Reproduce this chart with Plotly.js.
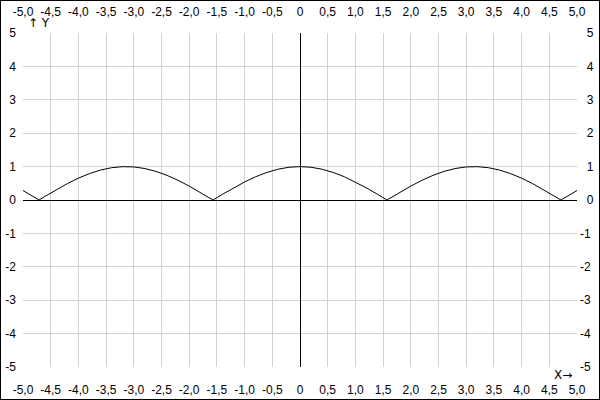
<!DOCTYPE html>
<html>
<head>
<meta charset="utf-8">
<script src="https://cdn.plot.ly/plotly-3.0.1.min.js"></script>
<style>
html,body{margin:0;padding:0;background:#fff;}
#chart{width:600px;height:400px;box-sizing:border-box;border:1px solid #000;}
</style>
</head>
<body>
<div id="chart"></div>
<script>
// Curve samples (|cos x| shape)
const xValues = [-5.0,-4.8,-4.71,-4.6,-4.4,-4.2,-4.0,-3.8,-3.6,-3.4,-3.2,-3.14,-3.0,-2.8,-2.6,-2.4,-2.2,-2.0,-1.8,-1.6,-1.57,-1.4,-1.2,-1.0,-0.8,-0.6,-0.4,-0.2,0.0,0.2,0.4,0.6,0.8,1.0,1.2,1.4,1.57,1.6,1.8,2.0,2.2,2.4,2.6,2.8,3.0,3.14,3.2,3.4,3.6,3.8,4.0,4.2,4.4,4.6,4.71,4.8,5.0];
const yValues = [0.284,0.087,0.0,0.112,0.307,0.490,0.654,0.791,0.897,0.967,0.998,1.0,0.990,0.942,0.857,0.737,0.589,0.416,0.227,0.029,0.0,0.170,0.362,0.540,0.697,0.825,0.921,0.980,1.0,0.980,0.921,0.825,0.697,0.540,0.362,0.170,0.0,0.029,0.227,0.416,0.589,0.737,0.857,0.942,0.990,1.0,0.998,0.967,0.897,0.791,0.654,0.490,0.307,0.112,0.0,0.087,0.284];

const xTicks = [-5,-4.5,-4,-3.5,-3,-2.5,-2,-1.5,-1,-0.5,0,0.5,1,1.5,2,2.5,3,3.5,4,4.5,5];
const xLabels = ["-5,0","-4,5","-4,0","-3,5","-3,0","-2,5","-2,0","-1,5","-1,0","-0,5","0","0,5","1,0","1,5","2,0","2,5","3,0","3,5","4,0","4,5","5,0"];
const yTicks = [-5,-4,-3,-2,-1,0,1,2,3,4,5];
const yLabels = ["-5","-4","-3","-2","-1","0","1","2","3","4","5"];
const yLabelsRight = ["-5","-4","-3","-2","-1","\u20070","\u20071","\u20072","\u20073","\u20074","\u20075"];

const font = {family: "Liberation Sans, Arial, sans-serif", size: 12, color: "#000"};
const arrowFont = {family: "DejaVu Sans, sans-serif", size: 12, color: "#000"};
const grid = "#d3d3d3";

const traces = [
  {x: xValues, y: yValues, type: "scatter", mode: "lines",
   line: {color: "#000", width: 1}, hoverinfo: "skip", showlegend: false},
  {x: xValues, y: yValues, xaxis: "x2", yaxis: "y2", type: "scatter", mode: "lines",
   line: {color: "rgba(0,0,0,0)", width: 0}, hoverinfo: "skip", showlegend: false}
];

const baseX = {range: [-5, 5], tickmode: "array", tickvals: xTicks, ticktext: xLabels,
  ticks: "", showline: false, tickfont: font, fixedrange: true};
const baseY = {range: [-5, 5], tickmode: "array", tickvals: yTicks,
  ticks: "", showline: false, tickfont: font, fixedrange: true};

const layout = {
  width: 598, height: 398,
  margin: {l: 22, r: 22, t: 32, b: 32, pad: 0},
  paper_bgcolor: "#fff", plot_bgcolor: "#fff",
  showlegend: false,
  font: font,
  xaxis: Object.assign({}, baseX, {side: "bottom", anchor: "y", showgrid: true, gridcolor: grid, gridwidth: 1,
    zeroline: true, zerolinecolor: "#000", zerolinewidth: 1, ticklabelstandoff: 14}),
  xaxis2: Object.assign({}, baseX, {side: "top", overlaying: "x", anchor: "y", matches: "x",
    showgrid: false, zeroline: false, ticklabelstandoff: 14}),
  yaxis: Object.assign({}, baseY, {ticktext: yLabels, side: "left", anchor: "x", showgrid: true, gridcolor: grid,
    gridwidth: 1, zeroline: true, zerolinecolor: "#000", zerolinewidth: 1, ticklabelstandoff: 6}),
  yaxis2: Object.assign({}, baseY, {ticktext: yLabelsRight, side: "right", overlaying: "y", anchor: "x", matches: "y",
    showgrid: false, zeroline: false, ticklabelstandoff: 2}),
  annotations: [
    {text: "\u2191 Y", xref: "paper", yref: "paper", x: 0, y: 1, xanchor: "left", yanchor: "bottom",
     xshift: 3, yshift: 1, showarrow: false, font: arrowFont},
    {text: "X\u2192", xref: "paper", yref: "paper", x: 1, y: 0, xanchor: "right", yanchor: "top",
     xshift: -3, yshift: 1, showarrow: false, font: arrowFont}
  ]
};

Plotly.newPlot("chart", traces, layout, {staticPlot: true, displayModeBar: false});
</script>
</body>
</html>
